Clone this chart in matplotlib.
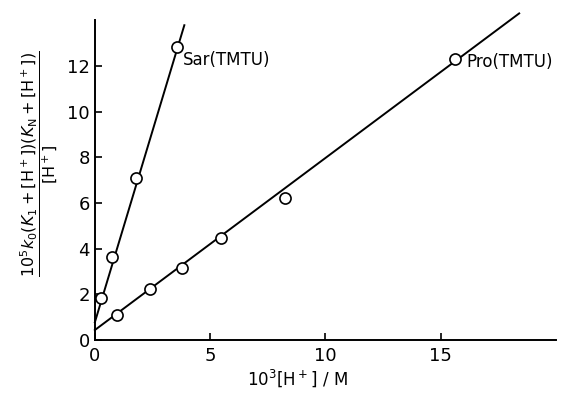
import numpy as np
import matplotlib.pyplot as plt

plt.rcParams.update({'font.size': 13, 'font.family': 'DejaVu Sans', 'mathtext.fontset': 'dejavusans'})

# Sar(TMTU) data
sar_h = [0.25, 0.75, 1.77, 3.58]
sar_y = [1.85, 3.64, 7.1, 12.83]
sar_fit = (3.35, 0.78)    # slope, intercept
sar_xend = 3.88

# Pro(TMTU) data
pro_h = [0.94, 2.39, 3.77, 5.46, 8.23, 15.6]
pro_y = [1.09, 2.25, 3.14, 4.48, 6.2, 12.28]
pro_fit = (0.753, 0.44)
pro_xend = 18.4

xticks = [0, 5, 10, 15]
yticks = [0, 2, 4, 6, 8, 10, 12]

fig = plt.figure(figsize=(5.68, 3.95), dpi=100)
ax = fig.add_axes([0.167, 0.139, 0.812, 0.81])

for xs, ys, fit, xend in [(sar_h, sar_y, sar_fit, sar_xend), (pro_h, pro_y, pro_fit, pro_xend)]:
    lx = np.array([0, xend])
    ax.plot(lx, fit[0] * lx + fit[1], color='black', lw=1.4, clip_on=False)
    ax.plot(xs, ys, 'o', mfc='white', mec='black', ms=8, mew=1.2, clip_on=False, zorder=3)

ax.text(3.8, 12.25, 'Sar(TMTU)', fontsize=12, va='center', ha='left')
ax.text(16.1, 12.15, 'Pro(TMTU)', fontsize=12, va='center', ha='left')

ax.set_xlim(0, 20)
ax.set_ylim(0, 14)
ax.set_xticks(xticks)
ax.set_yticks(yticks)
ax.spines['top'].set_visible(False)
ax.spines['right'].set_visible(False)
ax.spines['left'].set_linewidth(1.4)
ax.spines['bottom'].set_linewidth(1.4)
ax.tick_params(direction='in', length=5, width=1.2)
ax.tick_params(axis='x', pad=5)
ax.set_xlabel(r'$10^3[\mathrm{H}^+]\ /\ \mathrm{M}$', fontsize=12)
ax.xaxis.set_label_coords(0.44, -0.085)

fig.text(0.07, 0.585, r'$\dfrac{10^5k_0(K_1+[\mathrm{H}^+])(K_\mathrm{N}+[\mathrm{H}^+])}{[\mathrm{H}^+]}$',
         rotation=90, ha='center', va='center', fontsize=11.5)

fig.savefig('out.png', dpi=100)
